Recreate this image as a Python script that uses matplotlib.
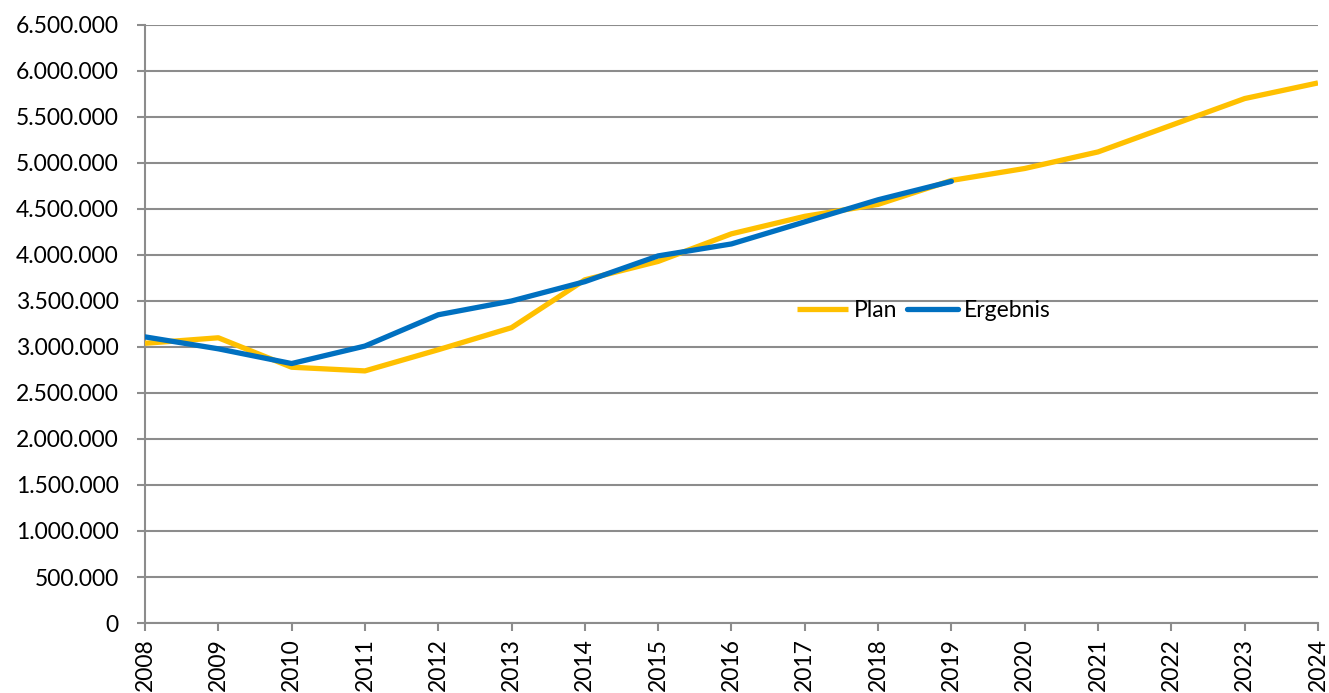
import numpy as np
import matplotlib
matplotlib.use("Agg")
from matplotlib import pyplot as plt
from matplotlib.ticker import FuncFormatter, MultipleLocator

# Values
years = list(range(2008, 2025))
plan = [3040000, 3100000, 2780000, 2740000, 2970000, 3210000, 3730000, 3930000,
        4230000, 4420000, 4550000, 4810000, 4940000, 5120000, 5410000, 5700000, 5870000]
ergebnis_years = list(range(2008, 2020))
ergebnis = [3110000, 2980000, 2820000, 3010000, 3350000, 3500000, 3710000, 3990000,
            4120000, 4360000, 4600000, 4800000]

plt.rcParams["font.family"] = ["Lato", "DejaVu Sans"]

fig = plt.figure(figsize=(13.29, 6.93), dpi=100)
ax = fig.add_axes([0.1091, 0.101, 0.8826, 0.863])

grid_col = "#8c8c8c"
ax.plot(years, plan, color="#FFC000", lw=3.8, label="Plan", solid_capstyle="butt", zorder=3)
ax.plot(ergebnis_years, ergebnis, color="#0070C0", lw=3.8, label="Ergebnis",
        solid_capstyle="round", zorder=4)

ax.set_xlim(2008, 2024)
ax.set_ylim(0, 6500000)
ax.yaxis.set_major_locator(MultipleLocator(500000))
ax.set_xticks(years)
ax.set_xticklabels([str(y) for y in years], rotation=90)
ax.yaxis.set_major_formatter(FuncFormatter(lambda v, p: "{:,.0f}".format(v).replace(",", ".")))

ax.grid(axis="y", color=grid_col, lw=1.5)
ax.set_axisbelow(True)
for s in ["top", "right"]:
    ax.spines[s].set_visible(False)
for s in ["left", "bottom"]:
    ax.spines[s].set_color(grid_col)
    ax.spines[s].set_linewidth(1.5)
ax.tick_params(axis="both", colors=grid_col, labelcolor="black", labelsize=16.5, width=1.5, length=6)
ax.tick_params(axis="x", pad=5)
ax.tick_params(axis="y", pad=13)

ax.legend(loc="center", bbox_to_anchor=(0.664, 0.522), ncol=2, frameon=False, fontsize=16.5,
          handlelength=2.25, handletextpad=0.25, columnspacing=0.4)

fig.savefig("out.png", dpi=100)
